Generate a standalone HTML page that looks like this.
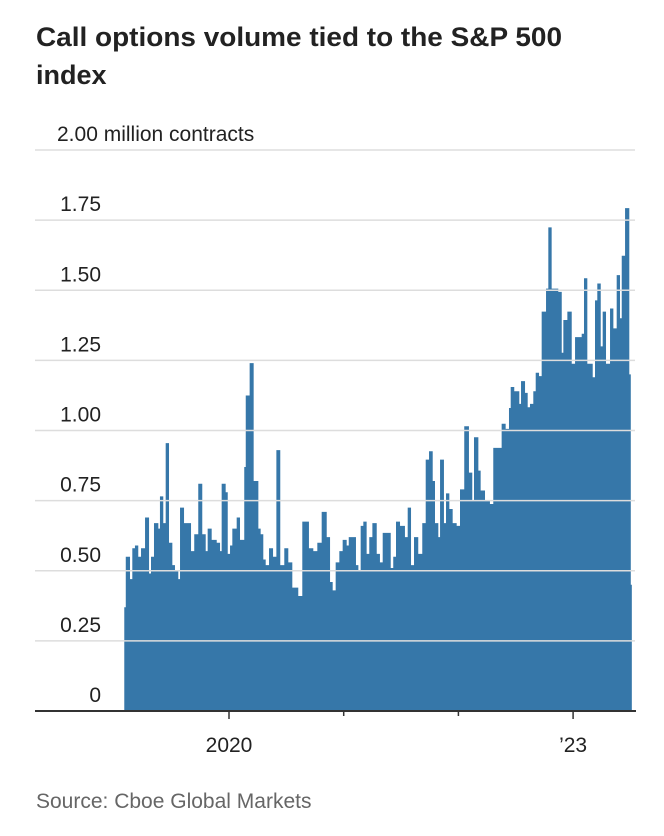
<!DOCTYPE html>
<html><head><meta charset="utf-8"><style>
body{margin:0;background:#fff;width:664px;height:836px;overflow:hidden;font-family:"Liberation Sans",sans-serif;}
svg{position:absolute;left:0;top:0}
</style></head><body>
<svg width="664" height="836">
<text x="36" y="46" font-size="27" font-weight="bold" fill="#222" textLength="526" lengthAdjust="spacingAndGlyphs">Call options volume tied to the S&amp;P 500</text>
<text x="36" y="84" font-size="27" font-weight="bold" fill="#222">index</text>
<g id="plot"></g>
<text x="36" y="808" font-size="21" fill="#666">Source: Cboe Global Markets</text>
</svg>
<script>
const dates=[2019.087,2019.10,2019.137,2019.157,2019.18,2019.209,2019.233,2019.268,2019.303,2019.32,2019.346,2019.384,2019.398,2019.427,2019.448,2019.477,2019.506,2019.529,2019.558,2019.573,2019.608,2019.669,2019.697,2019.732,2019.767,2019.797,2019.814,2019.849,2019.893,2019.922,2019.936,2019.971,2019.989,2020.009,2020.029,2020.067,2020.096,2020.133,2020.146,2020.18,2020.215,2020.256,2020.276,2020.299,2020.32,2020.349,2020.384,2020.413,2020.447,2020.482,2020.517,2020.552,2020.604,2020.639,2020.697,2020.735,2020.77,2020.808,2020.852,2020.881,2020.904,2020.93,2020.962,2020.991,2021.026,2021.044,2021.107,2021.128,2021.148,2021.171,2021.2,2021.223,2021.25,2021.288,2021.316,2021.34,2021.41,2021.432,2021.456,2021.491,2021.534,2021.558,2021.587,2021.613,2021.65,2021.685,2021.715,2021.744,2021.776,2021.796,2021.825,2021.84,2021.874,2021.892,2021.921,2021.95,2021.985,2022.014,2022.051,2022.092,2022.121,2022.136,2022.174,2022.194,2022.232,2022.275,2022.304,2022.377,2022.412,2022.441,2022.456,2022.487,2022.531,2022.546,2022.581,2022.604,2022.624,2022.653,2022.674,2022.703,2022.726,2022.764,2022.784,2022.813,2022.871,2022.901,2022.915,2022.95,2022.988,2023.017,2023.075,2023.095,2023.124,2023.171,2023.191,2023.211,2023.241,2023.258,2023.287,2023.322,2023.351,2023.38,2023.409,2023.424,2023.453,2023.49,2023.503];
const values=[0.37,0.55,0.47,0.58,0.59,0.55,0.58,0.69,0.49,0.55,0.67,0.65,0.765,0.67,0.955,0.60,0.52,0.50,0.47,0.725,0.67,0.57,0.63,0.81,0.63,0.57,0.65,0.61,0.60,0.57,0.81,0.78,0.56,0.59,0.65,0.69,0.61,0.87,1.125,1.24,0.82,0.65,0.63,0.54,0.52,0.58,0.55,0.93,0.52,0.58,0.53,0.44,0.41,0.675,0.58,0.57,0.60,0.71,0.62,0.46,0.43,0.53,0.57,0.61,0.59,0.62,0.52,0.50,0.66,0.675,0.56,0.62,0.67,0.56,0.53,0.635,0.51,0.55,0.675,0.66,0.62,0.725,0.52,0.62,0.56,0.67,0.896,0.926,0.82,0.67,0.62,0.896,0.67,0.776,0.72,0.67,0.66,0.79,1.015,0.85,0.75,0.976,0.857,0.786,0.75,0.738,0.938,1.024,1.006,1.08,1.155,1.14,1.095,1.176,1.134,1.083,1.095,1.14,1.206,1.194,1.424,1.506,1.724,1.506,1.494,1.277,1.394,1.424,1.238,1.333,1.345,1.543,1.238,1.19,1.464,1.524,1.30,1.424,1.238,1.435,1.364,1.554,1.40,1.623,1.793,1.20,0.45];
const endDate=2023.512;
const yTicks=[0,0.25,0.5,0.75,1.0,1.25,1.5,1.75,2.0];
const yTickLabels=["0","0.25","0.50","0.75","1.00","1.25","1.50","1.75","2.00 million contracts"];
const xTicks=[2020,2021,2022,2023];
const xTickLabels=["2020","","","\u201923"];
const NS="http://www.w3.org/2000/svg";
const X=d=>229+(d-2020)*114.7;
const Y=v=>711-v*280.5;
const g=document.getElementById('plot');
function mk(t,a){const e=document.createElementNS(NS,t);for(const k in a)e.setAttribute(k,a[k]);g.appendChild(e);return e;}
let p='M'+X(dates[0])+','+Y(0);
for(let i=0;i<dates.length;i++){const x1=X(dates[i]),x2=X(i+1<dates.length?dates[i+1]:endDate);p+=' L'+x1+','+Y(values[i])+' L'+x2+','+Y(values[i]);}
p+=' L'+X(endDate)+','+Y(0)+' Z';
const area=mk('path',{d:p,fill:'#3677a9'});


yTicks.forEach((v,i)=>{
 if(v>0){const l=mk('line',{x1:35,x2:635,y1:Y(v),y2:Y(v),stroke:'#ddd','stroke-width':1.5});
 
 }
 const last=i===yTicks.length-1;
 const t=mk('text',{x:last?57:101,y:Y(v)-9,'font-size':21,fill:'#222','text-anchor':last?'start':'end'});
 t.textContent=yTickLabels[i];
 
 
});
const ax=mk('line',{x1:35,x2:636,y1:711,y2:711,stroke:'#333','stroke-width':2});


xTicks.forEach((d,i)=>{
 const tk=mk('line',{x1:X(d),x2:X(d),y1:711,y2:xTickLabels[i]?719:716,stroke:'#333','stroke-width':1.5});
 
 
 if(xTickLabels[i]){const t=mk('text',{x:X(d),y:752,'font-size':21,fill:'#222','text-anchor':'middle'});
 t.textContent=xTickLabels[i];
 
 }
});
</script>
</body></html>
